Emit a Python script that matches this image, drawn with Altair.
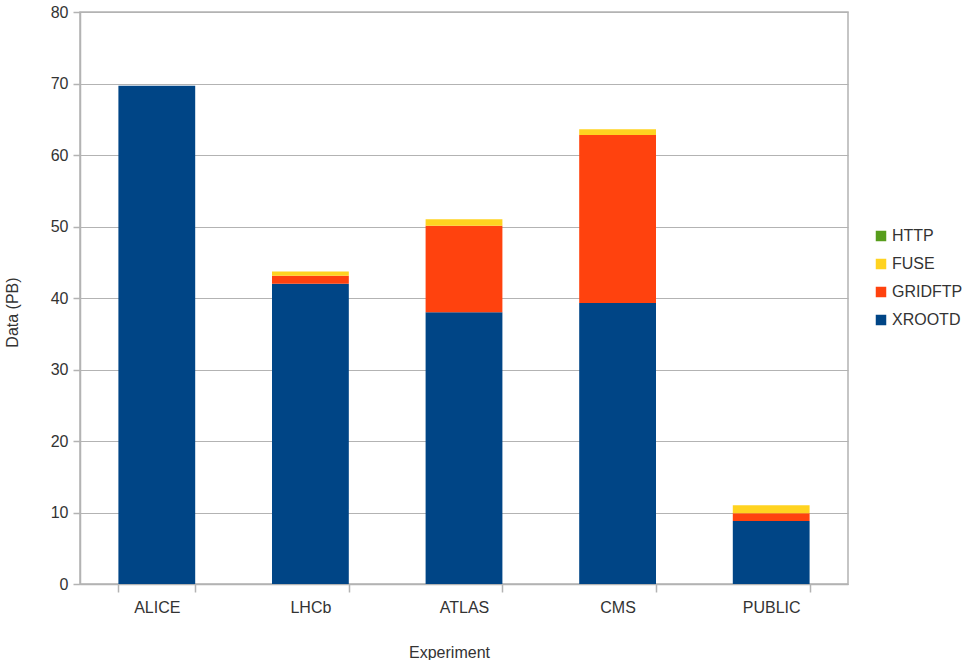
import altair as alt
import pandas as pd

experiments = ["ALICE", "LHCb", "ATLAS", "CMS", "PUBLIC"]
protocols = ["XROOTD", "GRIDFTP", "FUSE", "HTTP"]
xrootd = [69.7, 42.0, 38.0, 39.3, 8.8]
gridftp = [0.0, 1.1, 12.1, 23.5, 1.1]
fuse = [0.0, 0.6, 0.9, 0.8, 1.1]
http = [0.0, 0.0, 0.0, 0.0, 0.0]

legend_order = ["HTTP", "FUSE", "GRIDFTP", "XROOTD"]
colors = ["#579d1c", "#ffd320", "#ff420e", "#004586"]

series = {"XROOTD": xrootd, "GRIDFTP": gridftp, "FUSE": fuse, "HTTP": http}
rows = []
for i, e in enumerate(experiments):
    for k, p in enumerate(protocols):
        rows.append({"Experiment": e, "Protocol": p, "Data": series[p][i], "order": k})
df = pd.DataFrame(rows)

font = "Liberation Sans"

chart = alt.Chart(df).mark_bar().encode(
    x=alt.X("Experiment:N", sort=experiments,
            scale=alt.Scale(paddingInner=0.5, paddingOuter=0.25),
            axis=alt.Axis(title="Experiment", labelAngle=0, tickBand="extent",
                          tickSize=8, labelPadding=7, labelFontSize=16,
                          titleFontSize=16, titleX=369, titleY=68,
                          titleBaseline="middle", grid=False)),
    y=alt.Y("sum(Data):Q", stack="zero",
            scale=alt.Scale(domain=[0, 80], nice=False),
            axis=alt.Axis(title="Data (PB)", values=list(range(0, 81, 10)),
                          tickSize=7, labelPadding=5, labelFontSize=16,
                          titleFontSize=16, titleX=-68, titleY=300,
                          titleBaseline="middle", titleAngle=-90)),
    color=alt.Color("Protocol:N",
                    scale=alt.Scale(domain=legend_order, range=colors),
                    legend=alt.Legend(title=None, orient="none", legendX=793, legendY=216,
                                      symbolType="square", symbolSize=110,
                                      symbolStrokeWidth=0, labelFontSize=16,
                                      rowPadding=12, labelOffset=3)),
    order=alt.Order("order:Q", sort="ascending"),
).properties(
    width=768, height=572,
    autosize=alt.AutoSizeParams(type="none"),
    padding={"left": 80, "top": 12, "right": 121, "bottom": 76},
).configure_view(
    stroke="#b3b3b3", strokeWidth=1.5
).configure_axis(
    domainColor="#b3b3b3", tickColor="#b3b3b3", gridColor="#b3b3b3",
    domainWidth=1.5, tickWidth=1.5,
    labelFont=font, titleFont=font, labelColor="#333333", titleColor="#333333",
    titleFontWeight="normal"
).configure_legend(
    labelFont=font, labelColor="#333333"
)

chart.save("out.html", embed_options={"renderer": "svg", "actions": False})
